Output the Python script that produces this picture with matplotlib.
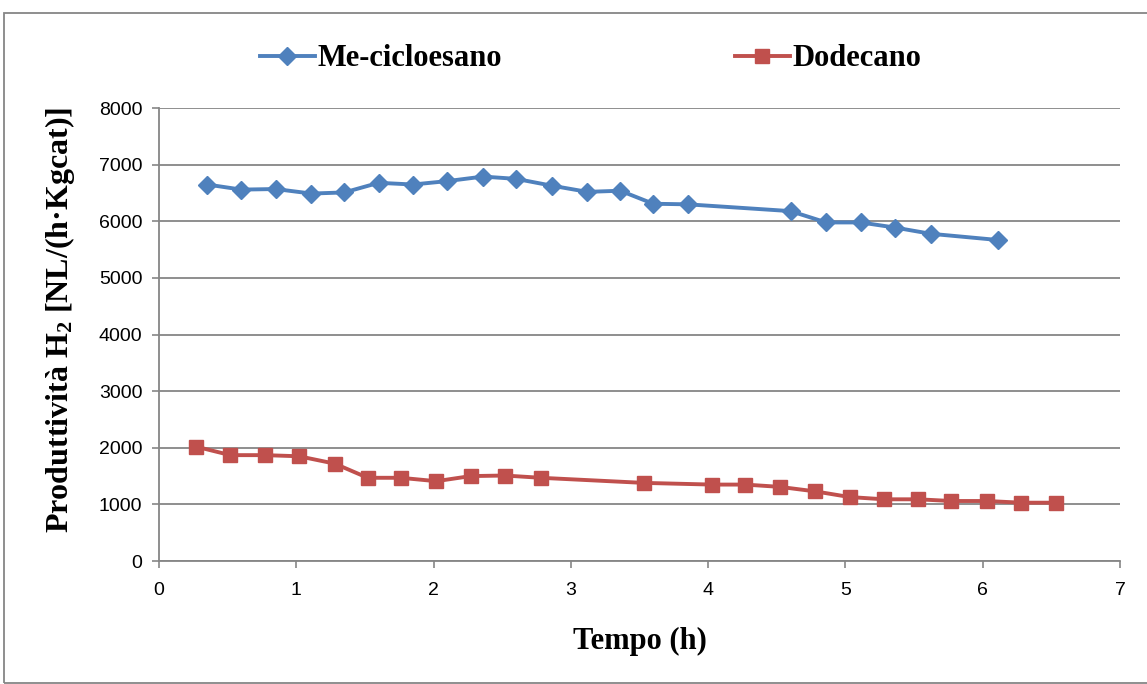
import matplotlib.pyplot as plt
from matplotlib.patches import Rectangle

# Data
tempo_me = [0.35, 0.60, 0.85, 1.11, 1.35, 1.60, 1.85, 2.10, 2.36, 2.60, 2.86, 3.12,
            3.36, 3.60, 3.85, 4.60, 4.86, 5.11, 5.36, 5.62, 6.11]
prod_me = [6650, 6560, 6570, 6490, 6510, 6680, 6650, 6710, 6790, 6750, 6630, 6520,
           6540, 6310, 6300, 6180, 5980, 5980, 5890, 5780, 5670]

tempo_dod = [0.27, 0.52, 0.77, 1.02, 1.28, 1.52, 1.76, 2.02, 2.27, 2.52, 2.78, 3.53,
             4.03, 4.27, 4.52, 4.78, 5.03, 5.28, 5.53, 5.77, 6.03, 6.28, 6.53]
prod_dod = [2020, 1870, 1870, 1850, 1720, 1470, 1470, 1410, 1500, 1510, 1470, 1380,
            1350, 1350, 1310, 1230, 1130, 1090, 1090, 1060, 1060, 1030, 1030]

x_ticks = [0, 1, 2, 3, 4, 5, 6, 7]
y_ticks = [0, 1000, 2000, 3000, 4000, 5000, 6000, 7000, 8000]

blue = "#4F81BD"
red = "#C0504D"
grey = "#868686"
serif = "Liberation Serif"

plt.rcParams["mathtext.fontset"] = "custom"
plt.rcParams["mathtext.rm"] = "Liberation Serif:bold"
plt.rcParams["mathtext.it"] = "Liberation Serif:bold"
plt.rcParams["mathtext.bf"] = "Liberation Serif:bold"

fig = plt.figure(figsize=(11.47, 6.84), dpi=100)
ax = fig.add_axes([0.1386, 0.1798, 0.8379, 0.6622])

ax.plot(tempo_me, prod_me, color=blue, lw=2.8, marker="D", markersize=9.5,
        label="Me-cicloesano")
ax.plot(tempo_dod, prod_dod, color=red, lw=2.8, marker="s", markersize=9.5,
        label="Dodecano")

ax.set_xlim(0, 7)
ax.set_ylim(0, 8000)
ax.set_xticks(x_ticks)
ax.set_yticks(y_ticks)
ax.grid(axis="y", color=grey, lw=1.3)
ax.set_axisbelow(True)

for s in ["top", "right"]:
    ax.spines[s].set_visible(False)
for s in ["left", "bottom"]:
    ax.spines[s].set_color(grey)
    ax.spines[s].set_linewidth(1.3)
ax.tick_params(direction="out", length=5, width=1.2, color=grey, labelsize=14)
ax.tick_params(axis="x", pad=10)
ax.tick_params(axis="y", pad=7)
for lab in ax.get_xticklabels() + ax.get_yticklabels():
    lab.set_family("Liberation Sans")

ax.set_xlabel("Tempo (h)", family=serif, fontweight="bold", fontsize=22, labelpad=20)
ax.set_ylabel("Produttività H$_2$ [NL/(h·Kgcat)]", family=serif, fontweight="bold",
              fontsize=23)
ax.yaxis.set_label_coords(-0.085, 0.532)

fig.legend(loc="center", bbox_to_anchor=(0.515, 0.914), ncol=2, frameon=False,
           prop={"family": serif, "weight": "bold", "size": 22},
           handlelength=1.8, handletextpad=0.1, columnspacing=7.6)

fig.patches.append(Rectangle((4 / 1147, 0.002), 1.2, 1 - 13 / 684 - 0.002,
                             transform=fig.transFigure, fill=False,
                             edgecolor=grey, lw=1.3))

fig.savefig("out.png", dpi=100)
